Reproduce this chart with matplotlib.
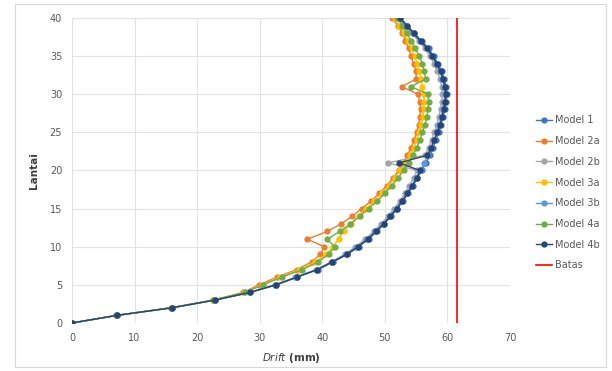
import matplotlib.pyplot as plt
from matplotlib.patches import Rectangle
import numpy as np

lantai = np.arange(0, 41)

model_1 = [0, 7.2, 16.0, 22.8, 28.4, 32.6, 35.9, 39.3, 41.7, 44.0, 45.8, 47.4, 48.7, 49.9, 51.0,
           52.0, 52.9, 53.7, 54.5, 55.2, 55.9, 56.6, 57.2, 57.7, 58.2, 58.6, 59.0, 59.3, 59.6,
           59.8, 59.9, 59.8, 59.5, 59.1, 58.5, 57.8, 57.0, 55.9, 54.7, 53.6, 52.5]
model_2a = [0, 7.1, 15.8, 22.5, 27.3, 29.9, 32.7, 35.9, 38.3, 39.7, 40.3, 37.6, 40.8, 43.0, 44.8,
            46.3, 47.8, 49.1, 50.3, 51.3, 52.2, 53.0, 53.6, 54.2, 54.7, 55.1, 55.4, 55.6, 55.7,
            55.6, 55.3, 52.7, 55.0, 55.0, 54.6, 54.2, 53.8, 53.3, 52.8, 52.1, 51.1]
model_2b = [0, 7.2, 16.0, 22.8, 28.3, 32.4, 35.7, 39.0, 41.4, 43.6, 45.3, 46.9, 48.2, 49.4, 50.5,
            51.5, 52.4, 53.2, 53.9, 54.6, 55.2, 50.5, 56.4, 57.0, 57.5, 57.9, 58.3, 58.6, 58.9,
            59.1, 59.2, 59.1, 58.8, 58.4, 57.9, 57.2, 56.4, 55.4, 54.3, 53.2, 52.1]
model_3a = [0, 7.1, 15.9, 22.6, 27.5, 30.3, 33.2, 36.3, 38.9, 40.6, 41.7, 42.6, 43.4, 44.6, 45.8,
            47.0, 48.3, 49.5, 50.6, 51.6, 52.5, 53.3, 54.0, 54.6, 55.1, 55.5, 55.8, 56.1, 56.2,
            56.3, 56.2, 56.0, 55.8, 55.5, 55.2, 54.8, 54.3, 53.7, 53.0, 52.3, 51.6]
model_3b = [0, 7.2, 16.0, 22.8, 28.4, 32.5, 35.8, 39.1, 41.5, 43.8, 45.6, 47.2, 48.5, 49.7, 50.8,
            51.8, 52.7, 53.5, 54.3, 55.0, 55.7, 56.3, 56.9, 57.4, 57.9, 58.3, 58.7, 59.0, 59.3,
            59.5, 59.6, 59.5, 59.2, 58.8, 58.2, 57.5, 56.7, 55.6, 54.5, 53.4, 52.3]
model_4a = [0, 7.1, 15.9, 22.6, 27.6, 30.5, 33.5, 36.8, 39.3, 41.0, 42.0, 40.8, 42.8, 44.5, 46.0,
            47.4, 48.8, 50.0, 51.1, 52.1, 53.0, 53.8, 54.5, 55.1, 55.6, 56.0, 56.4, 56.7, 56.9,
            57.0, 56.9, 54.2, 56.5, 56.3, 56.0, 55.5, 54.9, 54.2, 53.5, 52.8, 52.0]
model_4b = [0, 7.2, 16.0, 22.8, 28.4, 32.6, 35.9, 39.2, 41.6, 43.9, 45.7, 47.3, 48.6, 49.8, 50.9,
            51.9, 52.8, 53.6, 54.4, 55.1, 55.6, 52.3, 56.8, 57.4, 57.9, 58.4, 58.8, 59.1, 59.4,
            59.6, 59.7, 59.6, 59.3, 58.9, 58.3, 57.6, 56.8, 55.7, 54.6, 53.5, 52.4]
batas = 61.5

series = [
    ("Model 1", model_1, "#4472C4"),
    ("Model 2a", model_2a, "#ED7D31"),
    ("Model 2b", model_2b, "#A5A5A5"),
    ("Model 3a", model_3a, "#FFC000"),
    ("Model 3b", model_3b, "#5B9BD5"),
    ("Model 4a", model_4a, "#70AD47"),
    ("Model 4b", model_4b, "#264478"),
]

fig = plt.figure(figsize=(6.12, 3.71), dpi=100)
ax = fig.add_axes([0.1176, 0.1294, 0.7157, 0.8221])

for name, vals, col in series:
    ax.plot(vals, lantai, color=col, lw=1.0, marker="o", markersize=3.5, label=name)
ax.plot([batas, batas], [0, 40], color="#FF0000", lw=1.2, label="Batas")

ax.set_xlim(0, 70)
ax.set_ylim(0, 40)
ax.set_xticks(np.arange(0, 71, 10))
ax.set_yticks(np.arange(0, 41, 5))
ax.grid(True, color="#E3E3E3", lw=0.8)
ax.set_axisbelow(True)
for s in ax.spines.values():
    s.set_visible(False)
ax.tick_params(length=0, labelsize=7, colors="#595959", pad=7)

ax.set_ylabel("Lantai", fontsize=7.5, fontweight="bold", color="#404040", labelpad=8)
ax.set_xlabel(r"$\bf{\it{Drift}}$ (mm)", fontsize=7.5, fontweight="bold", color="#404040", labelpad=6)

leg = ax.legend(loc="center left", bbox_to_anchor=(0.862, 0.48), bbox_transform=fig.transFigure,
                frameon=False, fontsize=7, labelcolor="#595959", handlelength=1.6,
                handletextpad=0.3, labelspacing=1.1)

fig.patches.append(Rectangle((0.024, 0.01), 0.966, 0.978, transform=fig.transFigure,
                             fill=False, edgecolor="#D9D9D9", lw=0.8))

fig.savefig("out.png", dpi=100)
